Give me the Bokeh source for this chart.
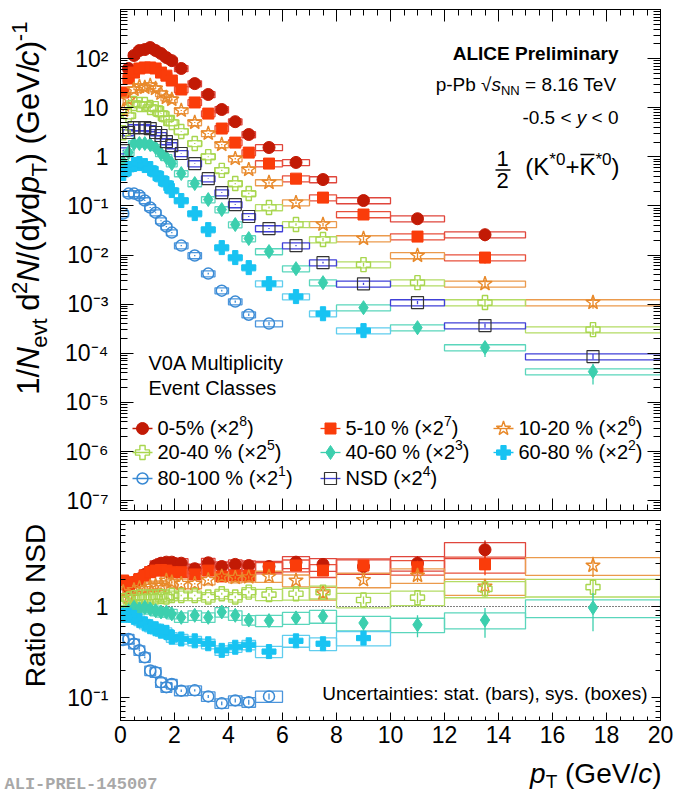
import math
from bokeh.plotting import figure
from bokeh.models import Range1d, LinearAxis, LogAxis, FixedTicker, CustomJSTickFormatter, Label
from bokeh.layouts import column, row
from bokeh.embed import file_html
from bokeh.resources import INLINE

# ---------------------------------------------------------------- data
# pT bin edges (GeV/c)
pt_edges = [0.0, 0.2, 0.4, 0.6, 0.8, 1.0, 1.2, 1.4, 1.6, 1.8, 2.0, 2.5, 3.0, 3.5,
            4.0, 4.5, 5.0, 6.0, 7.0, 8.0, 10.0, 12.0, 15.0, 20.0]
x_tick_values = [0, 2, 4, 6, 8, 10, 12, 14, 16, 18, 20]

class_names = ["0-5%", "5-10 %", "10-20 %", "20-40 %", "40-60 %", "60-80 %", "80-100 %", "NSD"]
scale_exp = ["8", "7", "6", "5", "3", "2", "1", "4"]

# 1/Nevt d2N/(dy dpT), already multiplied by the 2^n factors of the legend
spec_0_5 = [None, 62.9, 116, 146, 153, 168, 146, 127, 105, 91, 63, 31, 18.6, 9.2, 5.2,
            2.85, 1.55, 0.77, 0.345, 0.129, 0.055, 0.026, None]
spec_5_10 = [20.4, 39.4, 52, 63, 66, 66, 63, 52, 45, 35.8, 23.5, 12.8, 7.6, 3.77, 1.95,
             1.22, 0.73, 0.36, 0.148, 0.067, 0.0238, 0.0089, None]
spec_10_20 = [8.8, 14.7, 23.5, 27, 25.8, 28.3, 24.6, 19.5, 16.1, 14.7, 8.8, 5.0, 2.99, 1.78,
              0.92, 0.55, 0.30, 0.117, 0.042, 0.0217, 0.0098, 0.0026, 0.00108]
spec_20_40 = [3.1, 6.9, 12.2, 11.6, 11.6, 10.1, 9.6, 7.6, 6.0, 5.0, 3.28, 1.87, 1.01, 0.53,
              0.286, 0.179, 0.093, 0.042, 0.0207, 0.0064, 0.00275, 0.00108, 0.000304]
spec_40_60 = [0.766, 1.22, 1.87, 1.87, 1.87, 1.78, 1.55, 1.17, 0.97, 0.73, 0.457, 0.286, 0.135,
              0.0845, 0.0418, 0.0217, 0.0118, 0.0053, 0.00275, 0.00085, 0.000333, 0.000131, 0.0000424]
spec_60_80 = [0.457, 0.578, 0.70, 0.73, 0.665, 0.578, 0.457, 0.361, 0.286, 0.206, 0.129, 0.070,
              0.033, 0.0142, 0.0089, 0.00556, 0.00263, 0.00143, 0.00064, 0.00029, None, None, None]
spec_80_100 = [0.070, 0.179, 0.179, 0.163, 0.129, 0.093, 0.073, 0.050, 0.038, 0.0287, 0.0156,
               0.0098, 0.0042, 0.00189, 0.00113, 0.00061, 0.000403, None, None, None, None, None, None]
spec_nsd = [1.34, 3.13, 3.95, 3.95, 3.95, 3.77, 3.13, 2.72, 2.05, 1.70, 1.17, 0.73, 0.36, 0.187,
            0.107, 0.061, 0.0347, 0.0156, 0.0070, 0.0026, 0.00108, 0.000367, 0.0000857]

# ratio of each class to NSD
ratio_0_5 = [None, 1.62, 1.85, 2.01, 2.25, 2.44, 2.82, 2.99, 3.07, 3.07, 2.99, 2.60, 3.02, 2.75,
             2.90, 2.82, 2.75, 3.07, 2.90, 2.75, 2.99, 4.20, None]
ratio_5_10 = [1.93, 1.70, 1.85, 2.00, 2.19, 2.38, 2.48, 2.52, 2.48, 2.38, 2.38, 2.25, 2.48, 2.14,
              2.19, 2.19, 2.66, 2.82, 2.48, 2.82, 2.70, 2.90, None]
ratio_10_20 = [1.44, 1.27, 1.52, 1.60, 1.56, 1.66, 1.70, 1.70, 1.93, 1.85, 1.78, 1.78, 1.96, 2.14,
               2.07, 2.10, 2.14, 1.93, 1.40, 1.96, 2.19, 1.66, 2.82]
ratio_20_40 = [1.16, 1.21, 1.25, 1.27, 1.27, 1.27, 1.27, 1.29, 1.27, 1.32, 1.32, 1.32, 1.27, 1.38,
               1.27, 1.44, 1.35, 1.38, 1.44, 1.18, 1.25, 1.56, 1.63]
ratio_40_60 = [0.83, 0.90, 0.98, 0.94, 0.98, 0.94, 0.90, 0.87, 0.87, 0.83, 0.76, 0.80, 0.76, 0.87,
               0.80, 0.71, 0.70, 0.75, 0.78, 0.66, 0.63, 0.71, 0.97]
ratio_60_80 = [0.80, 0.80, 0.76, 0.70, 0.645, 0.60, 0.57, 0.536, 0.52, 0.46, 0.44, 0.42, 0.39, 0.33,
               0.357, 0.38, 0.32, 0.42, 0.39, 0.45, None, None, None]
ratio_80_100 = [0.43, 0.44, 0.39, 0.33, 0.277, 0.198, 0.19, 0.147, 0.13, 0.141, 0.119, 0.12, 0.103,
                0.0865, 0.093, 0.089, 0.103, None, None, None, None, None, None]

# relative uncertainties
stat_rel = [0.03, 0.02, 0.015, 0.015, 0.015, 0.015, 0.015, 0.015, 0.02, 0.02, 0.02, 0.02, 0.025,
            0.03, 0.035, 0.04, 0.05, 0.06, 0.08, 0.10, 0.15, 0.20, 0.25]
stat_class_factor = [1.3, 1.2, 1.0, 0.9, 1.8, 1.5, 1.5, 0.5]
sys_spec_rel = [0.14] * 23
sys_ratio_rel = [0.12, 0.12, 0.12, 0.12, 0.12, 0.12, 0.12, 0.12, 0.12, 0.12, 0.12, 0.12, 0.12,
                 0.12, 0.12, 0.12, 0.14, 0.15, 0.16, 0.18, 0.18, 0.20, 0.22]

spectra = [spec_0_5, spec_5_10, spec_10_20, spec_20_40, spec_40_60, spec_60_80, spec_80_100, spec_nsd]
ratios = [ratio_0_5, ratio_5_10, ratio_10_20, ratio_20_40, ratio_40_60, ratio_60_80, ratio_80_100]

# ---------------------------------------------------------------- styles
FONT = "Liberation Sans"
marker_style = [
    dict(marker="circle", size=12, color="#c21a05", fill=True, lw=1.0),
    dict(marker="square", size=11, color="#fa3c0a", fill=True, lw=1.0),
    dict(marker="star", size=15, color="#e8892a", fill=False, lw=1.4),
    dict(marker="plus", size=14, color="#a8d64e", fill=False, lw=1.4),
    dict(marker="diamond", size=14, color="#3ccfae", fill=True, lw=1.0),
    dict(marker="plus", size=14, color="#18c3f2", fill=True, lw=1.0),
    dict(marker="circle", size=11, color="#3a8ad4", fill=False, lw=1.5),
    dict(marker="square", size=12, color="#333333", fill=False, lw=1.2),
]
box_colors = ["#e0463c", "#e8503c", "#eb9a4c", "#b4dc64", "#5ad6bc", "#60cdee", "#4b95dc", "#4040d8"]
bar_colors = ["#c21a05", "#fa3c0a", "#e8892a", "#a8d64e", "#3ccfae", "#18c3f2", "#3a8ad4", "#4040d8"]

# page geometry (px)
PAGE_W, PAGE_H = 677, 795
SIDE = 55                    # strip left of the pads holding the vertical titles
X0, FW = 120, 540            # frame left edge and width
T1, FH1 = 9, 501             # spectra pad frame
H1 = 515                     # spectra pad height
T2, FH2 = 520, 200           # ratio pad frame
H2 = 207                     # ratio pad height
B1, B2 = T1 + FH1, T2 + FH2
XMIN, XMAX = 0.0, 20.0
Y1_LO, Y1_HI = -7.2, 3.0
Y2_LO, Y2_HI = math.log10(0.056), math.log10(8.8)


def dx(cx):
    return XMIN + (cx - X0) * (XMAX - XMIN) / FW


def px(x):
    return X0 + (x - XMIN) * FW / (XMAX - XMIN)


def dy1(cy):
    return 10 ** (Y1_HI - (cy - T1) * (Y1_HI - Y1_LO) / FH1)


# Arial-compatible advance widths (1/1000 em)
W = {' ': 278, '%': 889, '(': 333, ')': 333, '*': 389, '+': 584, ',': 278, '-': 333, '.': 278,
     '/': 278, ':': 278, '<': 584, '=': 584, '×': 584, '√': 549,
     'A': 667, 'C': 722, 'D': 722, 'E': 667, 'G': 778, 'K': 667, 'L': 556, 'M': 833, 'N': 722,
     'P': 667, 'R': 722, 'S': 667, 'T': 611, 'U': 722, 'V': 667,
     'a': 556, 'b': 556, 'c': 500, 'd': 556, 'e': 556, 'i': 222, 'l': 222, 'm': 833, 'n': 556,
     'o': 556, 'p': 556, 'r': 333, 's': 500, 't': 278, 'u': 556, 'v': 500, 'x': 500, 'y': 500}


def tw(s, size):
    return sum(W.get(ch, 556) for ch in s) * size / 1000.0


# texts inside a pad frame are placed in frame-relative screen units,
# texts in the strips in page coordinates (their ranges equal page px)
FRAME_BOTTOM = {}
CAP_MID = 0.36   # distance from baseline to the middle of capitals, in em


def put(fig, cx, cy, text, size, style="normal", align="left", angle=0.0, color="black", font=FONT):
    """(cx, cy) is the baseline point; the label is anchored on the capital-height middle."""
    if angle == 0.0:
        cy -= CAP_MID * size
    else:
        cx -= CAP_MID * size
    if id(fig) in FRAME_BOTTOM:
        kw = dict(x=cx - X0, y=FRAME_BOTTOM[id(fig)] - cy, x_units="screen", y_units="screen")
    else:
        kw = dict(x=cx, y=cy)
    fig.add_layout(Label(text=text, text_font=font, text_font_size=f"{size}px",
                         text_font_style=style, text_align=align, text_baseline="alphabetic",
                         angle=angle, text_color=color, **kw))


def run(fig, cx, cy, parts, align="left", vertical=False):
    """Lay out runs of differently styled text one after the other."""
    total = sum(tw(t, s) for t, s, _, _ in parts)
    if not vertical:
        x = cx - total if align == "right" else cx
        for t, s, st, sh in parts:
            core = t.lstrip(" ")
            put(fig, x + tw(t[:len(t) - len(core)], s), cy - sh, core, s, st)
            x += tw(t, s)
        return cx - total if align == "right" else cx
    y = cy + total if align == "right" else cy
    for t, s, st, sh in parts:
        core = t.lstrip(" ")
        put(fig, cx - sh, y - tw(t[:len(t) - len(core)], s), core, s, st, angle=math.pi / 2)
        y -= tw(t, s)


SUP = CustomJSTickFormatter(code="""
    const e = Math.round(Math.log10(tick));
    if (e == 0) return "1";
    if (e == 1) return "10";
    const m = {"-":"\u207b","0":"\u2070","1":"\u00b9","2":"\u00b2","3":"\u00b3","4":"\u2074",
               "5":"\u2075","6":"\u2076","7":"\u2077","8":"\u2078","9":"\u2079"};
    return "10" + String(e).split("").map(c => m[c]).join("");
""")


def style_axis(ax, ticker, major, minor, formatter=None, standoff=0):
    ax.ticker = ticker
    ax.major_tick_in = major
    ax.major_tick_out = 0
    ax.minor_tick_in = minor
    ax.minor_tick_out = 0
    ax.axis_line_color = "black"
    ax.major_tick_line_color = "black"
    ax.minor_tick_line_color = "black"
    if formatter is None:
        ax.formatter = CustomJSTickFormatter(code="return ''")
        ax.major_label_text_font_size = "1px"
        ax.major_label_standoff = 0
    else:
        ax.formatter = formatter
        ax.major_label_text_font = FONT
        ax.major_label_text_font_size = "23px"
        ax.major_label_text_color = "black"
        ax.major_label_standoff = standoff


def x_ticks():
    return FixedTicker(ticks=x_tick_values, minor_ticks=[i * 0.5 for i in range(41)])


y1_major = [10.0 ** e for e in range(-7, 3)]
y1_minor = [k * 10.0 ** e for e in range(-8, 3) for k in range(2, 10)]
y2_major = [0.1, 1.0]
y2_minor = [0.06, 0.07, 0.08, 0.09] + [k * 0.1 for k in range(2, 10)] + [2, 3, 4, 5, 6, 7, 8]


def make_pad(yr, height, top, bottom):
    p = figure(width=PAGE_W - SIDE, height=height, x_range=Range1d(XMIN, XMAX), y_range=yr,
               y_axis_type="log", output_backend="svg", toolbar_location=None, title=None,
               min_border_left=X0 - SIDE, min_border_right=PAGE_W - X0 - FW, min_border_top=top,
               min_border_bottom=bottom)
    p.xgrid.visible = False
    p.ygrid.visible = False
    p.outline_line_color = "black"
    p.outline_line_width = 1
    p.background_fill_color = "white"
    p.border_fill_color = "white"
    return p


def strip(ox, oy, w, h):
    """Blank panel whose data coordinates are page pixels."""
    f = figure(width=w, height=h, x_range=Range1d(ox, ox + w), y_range=Range1d(oy + h, oy),
               output_backend="svg", toolbar_location=None, title=None, min_border=0,
               min_border_left=0, min_border_right=0, min_border_top=0, min_border_bottom=0,
               x_axis_location=None, y_axis_location=None)
    f.xgrid.visible = False
    f.ygrid.visible = False
    f.outline_line_color = None
    f.background_fill_color = "white"
    f.border_fill_color = "white"
    return f


def draw_boxes(fig, vals, k, sys):
    xs, ys, lo, hi, bl, br, bb, bt = [], [], [], [], [], [], [], []
    for i, v in enumerate(vals):
        if v is None:
            continue
        a, b = pt_edges[i], pt_edges[i + 1]
        c = 0.5 * (a + b)
        hw = max(0.5 * (b - a), 0.2)
        e = min(stat_rel[i] * stat_class_factor[k], 0.8)
        xs.append(c); ys.append(v)
        lo.append(v * (1 - e)); hi.append(v * (1 + e))
        bl.append(c - hw); br.append(c + hw)
        bb.append(v * (1 - sys[i])); bt.append(v * (1 + sys[i]))
    fig.quad(left=bl, right=br, bottom=bb, top=bt, fill_alpha=0, line_color=box_colors[k],
             line_width=1.3)
    return xs, ys, lo, hi


def draw_marks(fig, k, xs, ys, lo, hi):
    st = marker_style[k]
    fig.segment(x0=xs, y0=lo, x1=xs, y1=hi, line_color=bar_colors[k], line_width=1.3)
    fig.scatter(xs, ys, marker=st["marker"], size=st["size"], line_color=st["color"],
                fill_color=st["color"], fill_alpha=1.0 if st["fill"] else 0.0,
                line_width=st["lw"])


# ---------------------------------------------------------------- spectra pad
p1 = make_pad(Range1d(10 ** Y1_LO, 10 ** Y1_HI), H1, T1, H1 - B1)
FRAME_BOTTOM[id(p1)] = B1
style_axis(p1.xaxis[0], x_ticks(), 12, 6)
style_axis(p1.yaxis[0], FixedTicker(ticks=y1_major, minor_ticks=y1_minor), 13, 7, SUP, 12)
ax = LinearAxis(); style_axis(ax, x_ticks(), 12, 6); p1.add_layout(ax, "above")
ax = LogAxis(); style_axis(ax, FixedTicker(ticks=y1_major, minor_ticks=y1_minor), 13, 7); p1.add_layout(ax, "right")

pending = [draw_boxes(p1, spectra[k], k, sys_spec_rel) for k in range(8)]
for k in range(8):
    draw_marks(p1, k, *pending[k])

# legend
leg_cols = [142, 330, 503]
leg_rows = [428, 452, 478]
for k in range(8):
    cx, cy = leg_cols[k % 3], leg_rows[k // 3]
    p1.segment(x0=[dx(cx - 10)], y0=[dy1(cy)], x1=[dx(cx + 10)], y1=[dy1(cy)],
               line_color=bar_colors[k], line_width=1.3)
    st = marker_style[k]
    p1.scatter([dx(cx)], [dy1(cy)], marker=st["marker"], size=st["size"], line_color=st["color"],
               fill_color=st["color"], fill_alpha=1.0 if st["fill"] else 0.0, line_width=st["lw"])
    run(p1, cx + 15, cy + 7, [(class_names[k] + " (×2", 20, "normal", 0),
                              (scale_exp[k], 14, "normal", 9), (")", 20, "normal", 0)])

put(p1, 148, 370, "V0A Multiplicity", 20)
put(p1, 148, 395, "Event Classes", 20)

put(p1, 618, 60, "ALICE Preliminary", 19, style="bold", align="right")
run(p1, 618, 91, [("p-Pb ", 19, "normal", 0), ("√", 19, "normal", 0), ("s", 19, "italic", 0),
                  ("NN", 13, "normal", -4), (" = 8.16 TeV", 19, "normal", 0)], align="right")
run(p1, 618, 124, [("-0.5 < ", 19, "normal", 0), ("y", 19, "italic", 0),
                   (" < 0", 19, "normal", 0)], align="right")

# 1/2 (K*0 + anti-K*0)
put(p1, 502, 166, "1", 22, align="center")
put(p1, 502, 188, "2", 22, align="center")
p1.segment(x0=[dx(495)], y0=[dy1(169.5)], x1=[dx(510)], y1=[dy1(169.5)], line_color="black", line_width=1.3)
k_parts = [("(K", 24, "normal", 0), ("*0", 17, "normal", 10), ("+K", 24, "normal", 0),
           ("*0", 17, "normal", 10), (")", 24, "normal", 0)]
k_start = run(p1, 619, 175, k_parts, align="right")
kx = k_start + tw("(K", 24) + tw("*0", 17) + tw("+", 24)
p1.segment(x0=[dx(kx + 1)], y0=[dy1(154)], x1=[dx(kx + tw("K", 24) - 1)], y1=[dy1(154)],
           line_color="black", line_width=1.3)

# strip with the spectra title
s1 = strip(0, 0, SIDE, H1)
run(s1, 39, 13, [("1/", 31, "normal", 0), ("N", 31, "italic", 0), ("evt", 22, "normal", -8),
                 (" d", 31, "normal", 0), ("2", 22, "normal", 12), ("N", 31, "italic", 0),
                 ("/(d", 31, "normal", 0), ("y", 31, "italic", 0), ("d", 31, "normal", 0),
                 ("p", 31, "italic", 0), ("T", 22, "normal", -8), (") (GeV/", 31, "normal", 0),
                 ("c", 31, "italic", 0), (")", 31, "normal", 0), ("-1", 22, "normal", 12)],
    align="right", vertical=True)

# ---------------------------------------------------------------- ratio pad
p2 = make_pad(Range1d(10 ** Y2_LO, 10 ** Y2_HI), H2, T2 - H1, H1 + H2 - B2)
FRAME_BOTTOM[id(p2)] = B2
style_axis(p2.xaxis[0], x_ticks(), 8, 4)
style_axis(p2.yaxis[0], FixedTicker(ticks=y2_major, minor_ticks=y2_minor), 9, 5, SUP, 12)
ax = LinearAxis(); style_axis(ax, x_ticks(), 8, 4); p2.add_layout(ax, "above")
ax = LogAxis(); style_axis(ax, FixedTicker(ticks=y2_major, minor_ticks=y2_minor), 9, 5); p2.add_layout(ax, "right")

p2.line([XMIN, XMAX], [1.0, 1.0], line_color="black", line_width=1, line_dash="1 2")
pending = [draw_boxes(p2, ratios[k], k, sys_ratio_rel) for k in range(7)]
for k in range(7):
    draw_marks(p2, k, *pending[k])

put(p2, 647, 700, "Uncertainties: stat. (bars), sys. (boxes)", 19, align="right")

s2 = strip(0, H1, SIDE, H2)
put(s2, 45, 603, "Ratio to NSD", 28, align="center", angle=math.pi / 2)

# bottom strip: pT tick labels, x title and figure id
s3 = strip(0, H1 + H2, PAGE_W, PAGE_H - H1 - H2)
for t in x_tick_values:
    put(s3, px(t), 742, str(t), 23, align="center")
run(s3, 661, 783, [("p", 28, "italic", 0), ("T", 19, "normal", -5), (" (GeV/", 28, "normal", 0),
                   ("c", 28, "italic", 0), (")", 28, "normal", 0)], align="right")
put(s3, 4, 790, "ALI-PREL-145007", 17, style="bold", font="Liberation Mono", color="#a8a8a8")

layout = column(row(s1, p1), row(s2, p2), s3)
open("out.html", "w").write(file_html(layout, INLINE))
